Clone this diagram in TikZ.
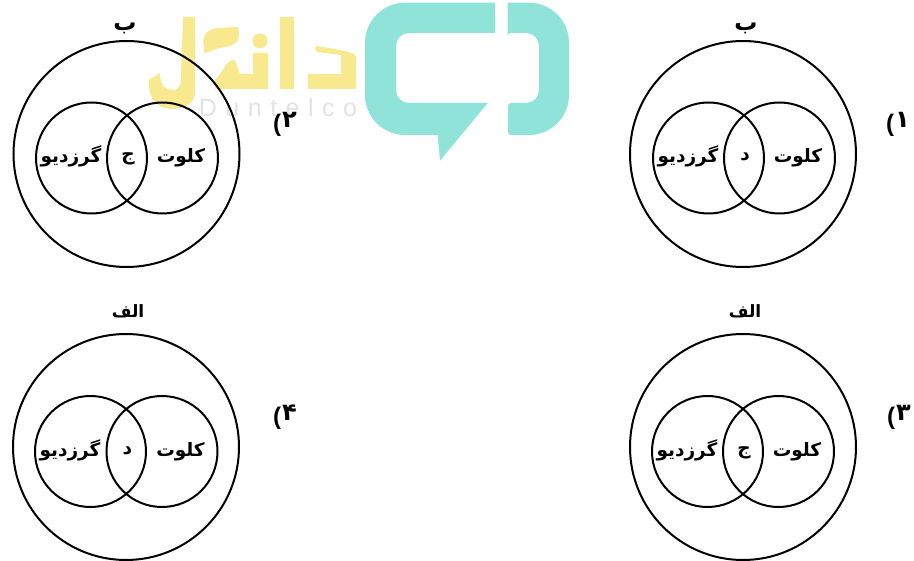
\documentclass[tikz,border=0pt]{standalone}
\usepackage{fontspec}
\TeXXeTstate=1
\newfontfamily\arabicfont[Script=Arabic]{DejaVu Sans}
\setmainfont{Liberation Sans}
\usetikzlibrary{calc}
\definecolor{wteal}{HTML}{8FE3D9}
\definecolor{wyellow}{HTML}{F8E88E}
\definecolor{wgrey}{HTML}{E2E2E2}
\tikzset{
  ring/.style={circle,draw=black,line width=2pt,inner sep=0pt,outer sep=0pt,minimum size=#1},
  lab/.style={font=\arabicfont\bfseries\fontsize{18.5}{20}\selectfont,inner sep=0pt,anchor=base},
  head/.style={font=\arabicfont\bfseries\fontsize{17}{20}\selectfont,inner sep=0pt,anchor=base},
  headb/.style={font=\arabicfont\bfseries\fontsize{23}{25}\selectfont,inner sep=0pt,anchor=base},
  choice/.style={font=\fontsize{24}{26}\selectfont,inner sep=0pt,anchor=base}
}
\newcommand{\ringset}[6]{
  \node[ring=226pt] (#1o) at (#2,#3) {};
  \node[ring=111pt] (#1l) at (#4,#6) {};
  \node[ring=111pt] (#1r) at (#5,#6) {};
}
\newcommand{\venntext}[2]{
  \node[lab] (#1a) at ($(#1l.center)+(-20.5,5)$) {\beginR گرزدیو\endR};
  \node[lab] (#1b) at ($(#1l.center)!0.5!(#1r.center)+(1,3)$) {\beginR #2\endR};
  \node[lab] (#1c) at ($(#1r.center)+(18.5,5)$) {\beginR کلوت\endR};
}
\newcommand{\choicetext}[1]{\raisebox{-4pt}{\bfseries\fontsize{24}{26}\selectfont(}\hspace{1pt}{\arabicfont\bfseries #1}}
\begin{document}
\begin{tikzpicture}[x=1pt,y=-1pt]
\useasboundingbox (0,0) rectangle (914,561);
% watermark
\fill[wteal] (495,2.7) -- (405,2.7) arc[start angle=90,end angle=180,radius=40pt] -- (365,95) arc[start angle=180,end angle=270,radius=40pt]
  -- (437.7,135) -- (440,160.7) -- (487.7,103) -- (409,103) arc[start angle=270,end angle=180,radius=13pt] -- (396,46) arc[start angle=180,end angle=90,radius=13pt] -- (495,33) -- cycle;
\fill[wteal] (507.7,2.7) -- (529,2.7) arc[start angle=90,end angle=0,radius=40pt] -- (569,95) arc[start angle=0,end angle=-90,radius=40pt] -- (511,135) arc[start angle=270,end angle=180,radius=3pt] -- (508,106) arc[start angle=180,end angle=90,radius=3pt] -- (526,103) arc[start angle=-90,end angle=0,radius=13pt] -- (539,46) arc[start angle=0,end angle=90,radius=13pt] -- (511,33) arc[start angle=90,end angle=180,radius=3.5pt] -- (507.7,6) -- cycle;
% wordmark
\fill[wyellow] (315,48) -- (317,52) -- (341,55) -- (341,74) -- (308,74) -- (308,89) -- (356,89) -- (356,57) .. controls (356,52) and (340,50) .. (317,46) -- cycle;
\fill[wyellow] (280,17) -- (294,17) -- (294,89) -- (280,89) -- cycle;
\fill[wyellow] (253,53) -- (268,53) -- (268,89) -- (215,89) -- (215,80) .. controls (225,70) and (225,60) .. (235,60) -- (240,74) -- (253,74) -- cycle;
\fill[wyellow] (260,41) circle[radius=7.5pt];
\fill[wyellow] (204,47) .. controls (201,35) and (208,28) .. (220,28) -- (238,27) .. controls (241,37) and (239,45) .. (225,47) .. controls (215,48) and (212,52) .. (204,53) -- cycle;
\fill[wyellow] (183,17) -- (195,17) -- (195,90) .. controls (195,105) and (185,108) .. (172,109) .. controls (158,109) and (148,100) .. (149,80) -- (160,73) .. controls (160,85) and (165,90) .. (172,90) .. controls (180,90) and (181,85) .. (181,75) -- cycle;
\node[text=wgrey,font=\fontsize{25}{27}\selectfont,inner sep=0pt] (brand) at (278,108) {D\hspace{8.5pt}u\hspace{8.5pt}n\hspace{8.5pt}t\hspace{8.5pt}e\hspace{8.5pt}l\hspace{8.5pt}c\hspace{8.5pt}o};
% diagrams
\ringset{p}{126.5}{154}{91.5}{162.5}{158}
\venntext{p}{ج}
\node[headb] (pt) at (125,31) {\beginR ب\endR};
\ringset{q}{743}{154}{708.5}{779.5}{158}
\venntext{q}{د}
\node[headb] (qt) at (746,31) {\beginR ب\endR};
\ringset{r}{126}{447}{90.5}{162}{451.5}
\venntext{r}{د}
\node[head] (rt) at (128,318) {\beginR الف\endR};
\ringset{s}{743}{447}{707.5}{778.5}{451.5}
\venntext{s}{ج}
\node[head] (st) at (745,318) {\beginR الف\endR};
\node[choice] (c1) at (898,128) {\choicetext{۱}};
\node[choice] (c2) at (285,128) {\choicetext{۲}};
\node[choice] (c3) at (899,421) {\choicetext{۳}};
\node[choice] (c4) at (285,421) {\choicetext{۴}};
\end{tikzpicture}
\end{document}
